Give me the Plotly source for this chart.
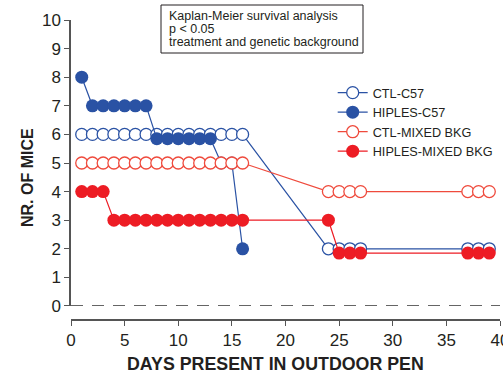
import plotly.graph_objects as go

# ---- data ----
ctl_c57_days = [1, 2, 3, 4, 5, 6, 7, 8, 9, 10, 11, 12, 13, 14, 15, 16, 24, 25, 26, 27, 37, 38, 39]
ctl_c57_mice = [6, 6, 6, 6, 6, 6, 6, 6, 6, 6, 6, 6, 6, 6, 6, 6, 2, 2, 2, 2, 2, 2, 2]

hiples_c57_days = [1, 2, 3, 4, 5, 6, 7, 8, 9, 10, 11, 12, 13, 14, 15, 16]
hiples_c57_mice = [8, 7, 7, 7, 7, 7, 7, 5.85, 5.85, 5.85, 5.85, 5.85, 5.85, 5, 5, 2]

ctl_mixed_days = [1, 2, 3, 4, 5, 6, 7, 8, 9, 10, 11, 12, 13, 14, 15, 16, 24, 25, 26, 27, 37, 38, 39]
ctl_mixed_mice = [5, 5, 5, 5, 5, 5, 5, 5, 5, 5, 5, 5, 5, 5, 5, 5, 4, 4, 4, 4, 4, 4, 4]

hiples_mixed_days = [1, 2, 3, 4, 5, 6, 7, 8, 9, 10, 11, 12, 13, 14, 15, 16, 24, 25, 26, 27, 37, 38, 39]
hiples_mixed_mice = [4, 4, 4, 3, 3, 3, 3, 3, 3, 3, 3, 3, 3, 3, 3, 3, 3, 1.85, 1.85, 1.85, 1.85, 1.85, 1.85]

x_ticks = [0, 5, 10, 15, 20, 25, 30, 35, 40]
y_ticks = [0, 1, 2, 3, 4, 5, 6, 7, 8, 9, 10]

note_lines = ["Kaplan-Meier survival analysis", "p < 0.05", "treatment and genetic background"]

BLUE = "#2a52a4"
RED = "#ed1c24"
RED_OPEN = "#ef4a3c"
FONT = "Liberation Sans, Arial, sans-serif"
TXT = "#231f20"

# pixel helpers for paper placement (plot area: x 71..500, y 20..320)
def px(xp):
    return (xp - 71) / 429

def py(yp):
    return (320 - yp) / 300

fig = go.Figure()

fig.add_trace(go.Scatter(
    x=ctl_c57_days, y=ctl_c57_mice, name="CTL-C57", mode="lines+markers",
    line=dict(color=BLUE, width=1.2),
    marker=dict(symbol="circle", size=12, color="white", line=dict(color=BLUE, width=1.3)),
))
fig.add_trace(go.Scatter(
    x=hiples_c57_days, y=hiples_c57_mice, name="HIPLES-C57", mode="lines+markers",
    line=dict(color=BLUE, width=1.2),
    marker=dict(symbol="circle", size=13, color=BLUE, line=dict(width=0)),
))
fig.add_trace(go.Scatter(
    x=ctl_mixed_days, y=ctl_mixed_mice, name="CTL-MIXED BKG", mode="lines+markers",
    line=dict(color=RED_OPEN, width=1.2),
    marker=dict(symbol="circle", size=12, color="white", line=dict(color=RED_OPEN, width=1.3)),
))
fig.add_trace(go.Scatter(
    x=hiples_mixed_days, y=hiples_mixed_mice, name="HIPLES-MIXED BKG", mode="lines+markers",
    line=dict(color=RED, width=1.2),
    marker=dict(symbol="circle", size=13, color=RED, line=dict(width=0)),
))

# dashed zero line
fig.add_shape(type="line", xref="x", yref="y", x0=0, x1=40, y0=0, y1=0,
              line=dict(color="#333333", width=1.3, dash="12px,9px"))

# note box
fig.add_shape(type="rect", xref="paper", yref="paper",
              x0=px(161), x1=px(363), y0=py(53), y1=py(5),
              line=dict(color=TXT, width=1), fillcolor="white", layer="above")

annotations = [
    dict(text="DAYS PRESENT IN OUTDOOR PEN", xref="paper", yref="paper",
         x=px(275.5), y=py(364), xanchor="center", yanchor="middle",
         showarrow=False, font=dict(size=17.8, family=FONT, color=TXT, weight="bold")),
    dict(text="NR. OF MICE", xref="paper", yref="paper", textangle=-90,
         x=px(28), y=py(178), xanchor="center", yanchor="middle",
         showarrow=False, font=dict(size=16, family=FONT, color=TXT, weight="bold")),
]
for i, line in enumerate(note_lines):
    annotations.append(dict(
        text=line, xref="paper", yref="paper", x=px(167), y=py(16.5 + 12.5 * i),
        xanchor="left", yanchor="middle", align="left", showarrow=False,
        font=dict(size=12.5, family=FONT, color=TXT)))

fig.update_layout(
    width=503, height=374,
    margin=dict(l=71, r=3, t=20, b=54, autoexpand=False),
    paper_bgcolor="white", plot_bgcolor="white",
    font=dict(family=FONT, color=TXT),
    showlegend=True,
    legend=dict(x=0.61, y=0.807, xanchor="left", yanchor="top",
                font=dict(size=12.7, family=FONT, color=TXT),
                itemwidth=30, bgcolor="rgba(0,0,0,0)", tracegroupgap=0),
    xaxis=dict(range=[0, 40], tickvals=x_ticks, ticks="outside", ticklen=5, tickwidth=1.3,
               tickcolor="#555555", showline=True, linecolor="#555555", linewidth=1.5,
               showgrid=False, zeroline=False, anchor="free", position=0,
               ticklabeloverflow="allow", automargin=False,
               tickfont=dict(size=17, family=FONT, color=TXT)),
    yaxis=dict(range=[0, 10], tickvals=y_ticks, ticks="outside", ticklen=5, tickwidth=1.3,
               tickcolor="#555555", showline=True, linecolor="#555555", linewidth=1.5,
               showgrid=False, zeroline=False, domain=[0.0467, 1], automargin=False,
               tickfont=dict(size=17, family=FONT, color=TXT)),
    annotations=annotations,
)

fig.write_html("out.html", config={"displayModeBar": False})

# remove the browser's default body margin so the figure fills the window
with open("out.html", "r", encoding="utf-8") as f:
    html = f.read()
html = html.replace("<body>", '<body style="margin:0;padding:0;overflow:hidden">', 1)
with open("out.html", "w", encoding="utf-8") as f:
    f.write(html)
